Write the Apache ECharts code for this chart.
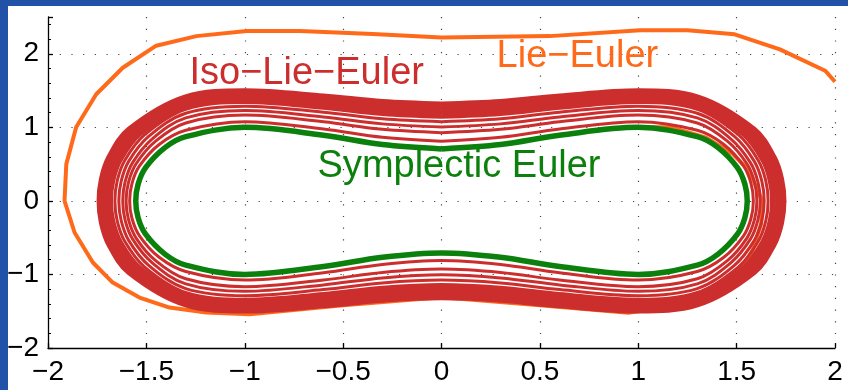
<!DOCTYPE html>
<html>
<head>
<meta charset="utf-8">
<script src="https://cdn.jsdelivr.net/npm/echarts@6/dist/echarts.min.js"></script>
<style>
  html, body { margin: 0; padding: 0; background: #ffffff; }
  #chart { width: 848px; height: 390px; }
</style>
</head>
<body>
<div id="chart"></div>
<script>
// Axis ticks
const xTickValues = [-2, -1.5, -1, -0.5, 0, 0.5, 1, 1.5, 2];
const yTickValues = [-2, -1, 0, 1, 2];

// Symplectic Euler orbit (closed, nearly energy preserving)
const symplecticEuler = [
  [0, 0.707], [0.3, 0.766], [0.6, 0.892], [1.0, 1.0], [1.3, 0.873], [1.404, 0.727], [1.504, 0.452], [1.542, 0.228], [1.554, 0],
  [1.542, -0.228], [1.504, -0.452], [1.404, -0.727], [1.3, -0.873], [1.0, -1.0], [0.6, -0.892], [0.3, -0.766], [0, -0.707],
  [-0.3, -0.766], [-0.6, -0.892], [-1.0, -1.0], [-1.3, -0.873], [-1.404, -0.727], [-1.504, -0.452], [-1.542, -0.228], [-1.554, 0],
  [-1.542, 0.228], [-1.504, 0.452], [-1.404, 0.727], [-1.3, 0.873], [-1.0, 1.0], [-0.6, 0.892], [-0.3, 0.766], [0, 0.707]
];

// Iso-Lie-Euler: successive revolutions drifting outward (inner, well separated ones)
const isoLieEulerInner1 = [
  [0, 0.812], [0.3, 0.864], [0.6, 0.977], [1.0, 1.077], [1.3, 0.960], [1.435, 0.767], [1.535, 0.475], [1.573, 0.239], [1.585, 0],
  [1.573, -0.239], [1.535, -0.475], [1.435, -0.767], [1.3, -0.960], [1.0, -1.077], [0.6, -0.977], [0.3, -0.864], [0, -0.812],
  [-0.3, -0.864], [-0.6, -0.977], [-1.0, -1.077], [-1.3, -0.960], [-1.435, -0.767], [-1.535, -0.475], [-1.573, -0.239], [-1.585, 0],
  [-1.573, 0.239], [-1.535, 0.475], [-1.435, 0.767], [-1.3, 0.960], [-1.0, 1.077], [-0.6, 0.977], [-0.3, 0.864], [0, 0.812]
];
const isoLieEulerInner2 = [
  [0, 0.927], [0.3, 0.973], [0.6, 1.075], [1.0, 1.166], [1.3, 1.059], [1.453, 0.812], [1.553, 0.502], [1.591, 0.252], [1.603, 0],
  [1.591, -0.252], [1.553, -0.502], [1.453, -0.812], [1.3, -1.059], [1.0, -1.166], [0.6, -1.075], [0.3, -0.973], [0, -0.927],
  [-0.3, -0.973], [-0.6, -1.075], [-1.0, -1.166], [-1.3, -1.059], [-1.453, -0.812], [-1.553, -0.502], [-1.591, -0.252], [-1.603, 0],
  [-1.591, 0.252], [-1.553, 0.502], [-1.453, 0.812], [-1.3, 1.059], [-1.0, 1.166], [-0.6, 1.075], [-0.3, 0.973], [0, 0.927]
];
const isoLieEulerInner3 = [
  [0, 1.005], [0.3, 1.047], [0.6, 1.142], [1.0, 1.229], [1.3, 1.128], [1.470, 0.843], [1.570, 0.520], [1.608, 0.261], [1.620, 0],
  [1.608, -0.261], [1.570, -0.520], [1.470, -0.843], [1.3, -1.128], [1.0, -1.229], [0.6, -1.142], [0.3, -1.047], [0, -1.005],
  [-0.3, -1.047], [-0.6, -1.142], [-1.0, -1.229], [-1.3, -1.128], [-1.470, -0.843], [-1.570, -0.520], [-1.608, -0.261], [-1.620, 0],
  [-1.608, 0.261], [-1.570, 0.520], [-1.470, 0.843], [-1.3, 1.128], [-1.0, 1.229], [-0.6, 1.142], [-0.3, 1.047], [0, 1.005]
];
const isoLieEulerInner4 = [
  [0, 1.077], [0.3, 1.116], [0.6, 1.206], [1.0, 1.288], [1.3, 1.192], [1.490, 0.873], [1.590, 0.537], [1.628, 0.269], [1.640, 0],
  [1.628, -0.269], [1.590, -0.537], [1.490, -0.873], [1.3, -1.192], [1.0, -1.288], [0.6, -1.206], [0.3, -1.116], [0, -1.077],
  [-0.3, -1.116], [-0.6, -1.206], [-1.0, -1.288], [-1.3, -1.192], [-1.490, -0.873], [-1.590, -0.537], [-1.628, -0.269], [-1.640, 0],
  [-1.628, 0.269], [-1.590, 0.537], [-1.490, 0.873], [-1.3, 1.192], [-1.0, 1.288], [-0.6, 1.206], [-0.3, 1.116], [0, 1.077]
];
const isoLieEulerInner5 = [
  [0, 1.136], [0.3, 1.173], [0.6, 1.259], [1.0, 1.338], [1.3, 1.246], [1.510, 0.897], [1.610, 0.550], [1.648, 0.276], [1.660, 0],
  [1.648, -0.276], [1.610, -0.550], [1.510, -0.897], [1.3, -1.246], [1.0, -1.338], [0.6, -1.259], [0.3, -1.173], [0, -1.136],
  [-0.3, -1.173], [-0.6, -1.259], [-1.0, -1.338], [-1.3, -1.246], [-1.510, -0.897], [-1.610, -0.550], [-1.648, -0.276], [-1.660, 0],
  [-1.648, 0.276], [-1.610, 0.550], [-1.510, 0.897], [-1.3, 1.246], [-1.0, 1.338], [-0.6, 1.259], [-0.3, 1.173], [0, 1.136]
];
// Outer revolutions, packed tightly into a dense band
const isoLieEulerOuter1 = [
  [0, 1.183], [0.3, 1.219], [0.6, 1.302], [1.0, 1.378], [1.3, 1.289], [1.535, 0.916], [1.635, 0.562], [1.673, 0.281], [1.685, 0],
  [1.673, -0.281], [1.635, -0.562], [1.535, -0.916], [1.3, -1.289], [1.0, -1.378], [0.6, -1.302], [0.3, -1.219], [0, -1.183],
  [-0.3, -1.219], [-0.6, -1.302], [-1.0, -1.378], [-1.3, -1.289], [-1.535, -0.916], [-1.635, -0.562], [-1.673, -0.281], [-1.685, 0],
  [-1.673, 0.281], [-1.635, 0.562], [-1.535, 0.916], [-1.3, 1.289], [-1.0, 1.378], [-0.6, 1.302], [-0.3, 1.219], [0, 1.183]
];
const isoLieEulerOuter2 = [
  [0, 1.249], [0.3, 1.283], [0.6, 1.362], [1.0, 1.435], [1.3, 1.350], [1.562, 0.943], [1.662, 0.578], [1.700, 0.289], [1.712, 0],
  [1.700, -0.289], [1.662, -0.578], [1.562, -0.943], [1.3, -1.350], [1.0, -1.435], [0.6, -1.362], [0.3, -1.283], [0, -1.249],
  [-0.3, -1.283], [-0.6, -1.362], [-1.0, -1.435], [-1.3, -1.350], [-1.562, -0.943], [-1.662, -0.578], [-1.700, -0.289], [-1.712, 0],
  [-1.700, 0.289], [-1.662, 0.578], [-1.562, 0.943], [-1.3, 1.350], [-1.0, 1.435], [-0.6, 1.362], [-0.3, 1.283], [0, 1.249]
];
const isoLieEulerOuter3 = [
  [0, 1.311], [0.3, 1.344], [0.6, 1.420], [1.0, 1.490], [1.3, 1.408], [1.588, 0.969], [1.688, 0.593], [1.726, 0.297], [1.738, 0],
  [1.726, -0.297], [1.688, -0.593], [1.588, -0.969], [1.3, -1.408], [1.0, -1.490], [0.6, -1.420], [0.3, -1.344], [0, -1.311],
  [-0.3, -1.344], [-0.6, -1.420], [-1.0, -1.490], [-1.3, -1.408], [-1.588, -0.969], [-1.688, -0.593], [-1.726, -0.297], [-1.738, 0],
  [-1.726, 0.297], [-1.688, 0.593], [-1.588, 0.969], [-1.3, 1.408], [-1.0, 1.490], [-0.6, 1.420], [-0.3, 1.344], [0, 1.311]
];

// Lie-Euler: one revolution spiralling out and leaving the frame on the right
const lieEuler = [
  [1.0, 1.0], [1.17, 1.0], [1.345, 0.86], [1.48, 0.64], [1.565, 0.41], [1.63, 0.0], [1.625, -0.31], [1.58, -0.68],
  [1.515, -0.95], [1.35, -1.25], [1.15, -1.44], [0.95, -1.52], [0.5, -1.42], [0.0, -1.31], [-0.5, -1.42], [-0.976, -1.54],
  [-1.196, -1.518], [-1.382, -1.45], [-1.535, -1.314], [-1.671, -1.11], [-1.772, -0.838], [-1.865, -0.43], [-1.916, 0.0],
  [-1.907, 0.5], [-1.857, 1.0], [-1.755, 1.45], [-1.62, 1.81], [-1.45, 2.11], [-1.246, 2.24], [-0.99, 2.31], [-0.72, 2.31],
  [-0.35, 2.27], [0.0, 2.22], [0.55, 2.24], [1.01, 2.32], [1.25, 2.32], [1.49, 2.265], [1.72, 2.06], [1.95, 1.77], [2.0, 1.62]
];

const isoLieEulerThin = [isoLieEulerInner1, isoLieEulerInner2, isoLieEulerInner3, isoLieEulerInner4, isoLieEulerInner5];
const isoLieEulerThick = [isoLieEulerOuter1, isoLieEulerOuter2, isoLieEulerOuter3];

// Method names placed inside the plot
const labelNames = ['Iso\u2212Lie\u2212Euler', 'Lie\u2212Euler', 'Symplectic Euler'];
const labelAnchors = [[-1.281, 1.73], [0.28, 1.959], [-0.63, 0.465]];
const labelColors = ['#cc2e2e', '#ff6a1a', '#0c800c'];

const RED = '#cc2e2e', ORANGE = '#ff6a1a', GREEN = '#0c800c';
const FONT = '"Liberation Sans", Arial, Helvetica, sans-serif';
const fmt = v => String(v).replace('-', '\u2212');

const chart = echarts.init(document.getElementById('chart'), null, { renderer: 'canvas' });

const series = [];
series.push({
  type: 'line', name: 'Lie-Euler', data: lieEuler, showSymbol: false, smooth: false,
  lineStyle: { color: ORANGE, width: 4, join: 'round' }, silent: true, z: 2
});
isoLieEulerThick.forEach(loop => series.push({
  type: 'line', data: loop, showSymbol: false, smooth: 0.35,
  lineStyle: { color: RED, width: 6 }, silent: true, z: 3
}));
isoLieEulerThin.forEach(loop => series.push({
  type: 'line', data: loop, showSymbol: false, smooth: 0.35,
  lineStyle: { color: RED, width: 3 }, silent: true, z: 3
}));
series.push({
  type: 'line', name: 'Symplectic Euler', data: symplecticEuler, showSymbol: false, smooth: 0.35,
  lineStyle: { color: GREEN, width: 5.5 }, silent: true, z: 4
});

const gridLine = { show: true, lineStyle: { color: '#444', width: 1.2, type: [1.2, 10.5] } };

chart.setOption({
  animation: false,
  backgroundColor: '#ffffff',
  grid: { left: 48, right: 13, top: 17, bottom: 42, containLabel: false },
  xAxis: {
    type: 'value', min: xTickValues[0], max: xTickValues[xTickValues.length - 1], interval: 0.5,
    axisLine: { show: true, onZero: false, lineStyle: { color: '#000', width: 1.3 } },
    axisTick: { show: true, inside: true, length: 5, lineStyle: { color: '#000', width: 1.3 } },
    axisLabel: { color: '#000', fontSize: 28, fontFamily: FONT, margin: 10, formatter: fmt },
    splitLine: Object.assign({ showMinLine: false, showMaxLine: true }, gridLine)
  },
  yAxis: {
    type: 'value', min: yTickValues[0], max: 2.5, interval: 1,
    axisLine: { show: true, onZero: false, lineStyle: { color: '#000', width: 1.3 } },
    axisTick: { show: true, inside: true, length: 5, lineStyle: { color: '#000', width: 1.3 } },
    minorTick: { show: true, splitNumber: 5, length: 3, lineStyle: { color: '#000', width: 1 } },
    axisLabel: {
      color: '#000', fontSize: 28, fontFamily: FONT, margin: 9, showMaxLabel: false,
      formatter: v => (yTickValues.indexOf(v) >= 0 ? fmt(v) : '')
    },
    splitLine: Object.assign({ showMinLine: false, showMaxLine: false }, gridLine)
  },
  series: series
});

// Frame bands of the slide, plus the method labels anchored in data space
const graphics = [
  { type: 'rect', shape: { x: 0, y: 0, width: 848, height: 6 }, style: { fill: '#2252a8' }, z: 100 },
  { type: 'rect', shape: { x: 0, y: 0, width: 8, height: 390 }, style: { fill: '#2252a8' }, z: 100 }
];
labelNames.forEach((name, i) => {
  const p = chart.convertToPixel({ gridIndex: 0 }, labelAnchors[i]);
  graphics.push({
    type: 'text', x: p[0], y: p[1], z: 50,
    style: { text: name, fill: labelColors[i], font: '38px ' + FONT, textAlign: 'left', textVerticalAlign: 'middle' }
  });
});
chart.setOption({ graphic: graphics });
</script>
</body>
</html>
